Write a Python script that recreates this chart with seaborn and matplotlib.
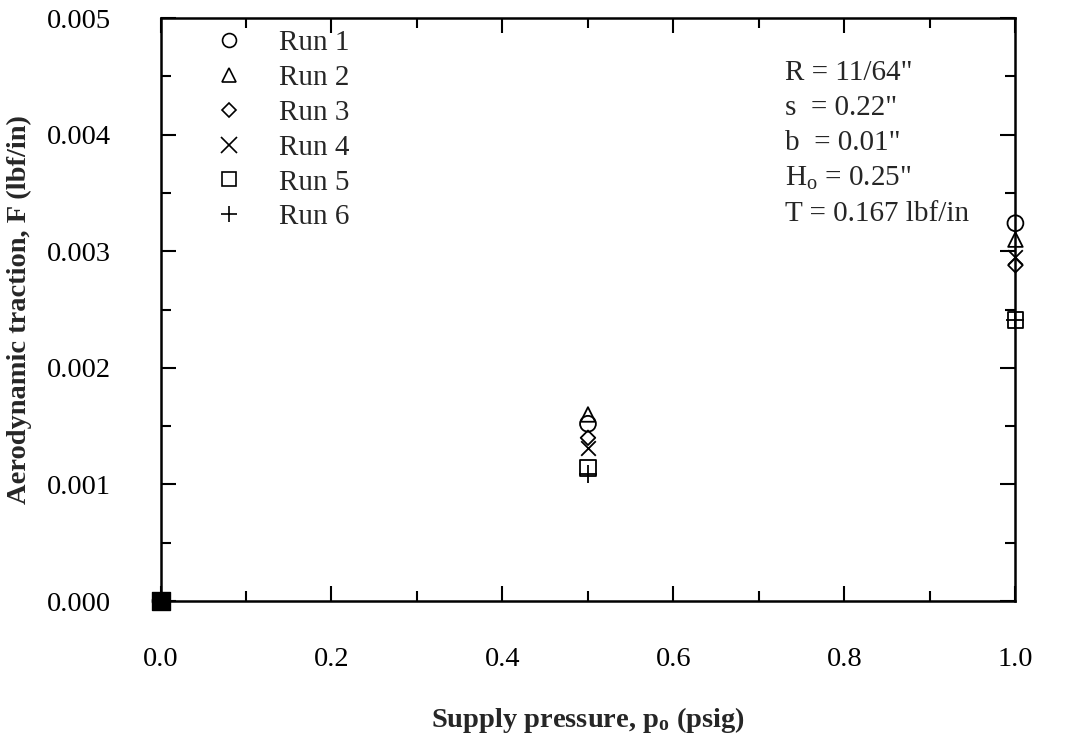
import matplotlib
matplotlib.use("Agg")
import matplotlib.pyplot as plt
from matplotlib.lines import Line2D
from matplotlib.ticker import MultipleLocator, FormatStrFormatter
import seaborn as sns
import pandas as pd

# Supply pressure (psig) and measured aerodynamic traction (lbf/in) per run
pressure = [0.0, 0.5, 1.0]
run_1 = [0.0, 0.00152, 0.00324]
run_2 = [0.0, 0.00160, 0.00310]
run_3 = [0.0, 0.00140, 0.00288]
run_4 = [0.0, 0.00131, 0.00295]
run_5 = [0.0, 0.00114, 0.00241]
run_6 = [0.0, 0.00109, 0.00241]

run_names = ["Run 1", "Run 2", "Run 3", "Run 4", "Run 5", "Run 6"]
run_values = [run_1, run_2, run_3, run_4, run_5, run_6]
run_markers = ["o", "^", "D", "x", "s", "+"]
run_sizes = [130, 110, 55, 110, 120, 150]

params = ['R = 11/64"', 's  = 0.22"', 'b  = 0.01"',
          'H$_\\mathrm{o}$ = 0.25"', 'T = 0.167 lbf/in']

sns.set_theme(style="ticks")
plt.rcParams["font.family"] = ["Liberation Serif", "DejaVu Serif"]
plt.rcParams["mathtext.fontset"] = "custom"
plt.rcParams["mathtext.rm"] = "Liberation Serif"
plt.rcParams["mathtext.bf"] = "Liberation Serif:bold"
plt.rcParams["mathtext.it"] = "Liberation Serif:italic"

df = pd.DataFrame({
    "p": pressure * len(run_names),
    "F": [v for vals in run_values for v in vals],
    "run": [n for n in run_names for _ in pressure],
})

fig = plt.figure(figsize=(10.7, 7.36), dpi=100)
ax = fig.add_axes([0.150, 0.1834, 0.799, 0.7921])

for name, marker, size in zip(run_names, run_markers, run_sizes):
    sub = df[df["run"] == name]
    if marker in ("x", "+"):
        sns.scatterplot(data=sub, x="p", y="F", marker=marker, s=size,
                        color="black", linewidth=1.3, ax=ax, clip_on=False,
                        zorder=3)
    else:
        sns.scatterplot(data=sub, x="p", y="F", marker=marker, s=size,
                        facecolor="none", edgecolor="black", linewidth=1.3,
                        ax=ax, clip_on=False, zorder=3)

# common origin point drawn solid
origin = df[(df["p"] == 0.0) & (df["run"] == "Run 5")]
sns.scatterplot(data=origin, x="p", y="F", marker="s", s=150, color="black",
                edgecolor="black", ax=ax, clip_on=False, zorder=4)

ax.set_xlim(0.0, 1.0)
ax.set_ylim(0.0, 0.005)
ax.xaxis.set_major_locator(MultipleLocator(0.2))
ax.xaxis.set_minor_locator(MultipleLocator(0.1))
ax.yaxis.set_major_locator(MultipleLocator(0.001))
ax.yaxis.set_minor_locator(MultipleLocator(0.0005))
ax.xaxis.set_major_formatter(FormatStrFormatter("%.1f"))
ax.yaxis.set_major_formatter(FormatStrFormatter("%.3f"))
ax.tick_params(which="both", direction="in", top=True, right=True,
               width=1.5, colors="black", labelsize=20.5)
ax.tick_params(which="major", length=11)
ax.tick_params(which="minor", length=7)
ax.tick_params(axis="x", which="major", pad=33)
ax.tick_params(axis="y", which="major", pad=36)
for sp in ax.spines.values():
    sp.set_linewidth(1.8)
    sp.set_color("black")

ax.set_xlabel("Supply pressure, p$_\\mathbf{o}$ (psig)", fontsize=20.5,
              fontweight="bold", labelpad=24)
ax.set_ylabel("Aerodynamic traction, F (lbf/in)", fontsize=20.5,
              fontweight="bold", labelpad=10)

handles = []
for name, marker in zip(run_names, run_markers):
    if marker in ("x", "+"):
        h = Line2D([], [], linestyle="none", marker=marker, color="black",
                   markersize=11, markeredgewidth=1.2)
    else:
        ms = 7 if marker == "D" else 10
        h = Line2D([], [], linestyle="none", marker=marker,
                   markerfacecolor="none", markeredgecolor="black",
                   markersize=ms, markeredgewidth=1.2)
    handles.append(h)
ax.legend(handles, run_names, loc="upper left", bbox_to_anchor=(0.05, 1.0),
          frameon=False, fontsize=21, handlelength=1.0, handletextpad=1.2,
          labelspacing=0.29, borderaxespad=0.0)

y0 = 0.906
for i, line in enumerate(params):
    ax.text(0.730, y0 - i * 0.0605, line, transform=ax.transAxes,
            fontsize=21, ha="left", va="center")

fig.savefig("out.png", dpi=100, facecolor="white")
